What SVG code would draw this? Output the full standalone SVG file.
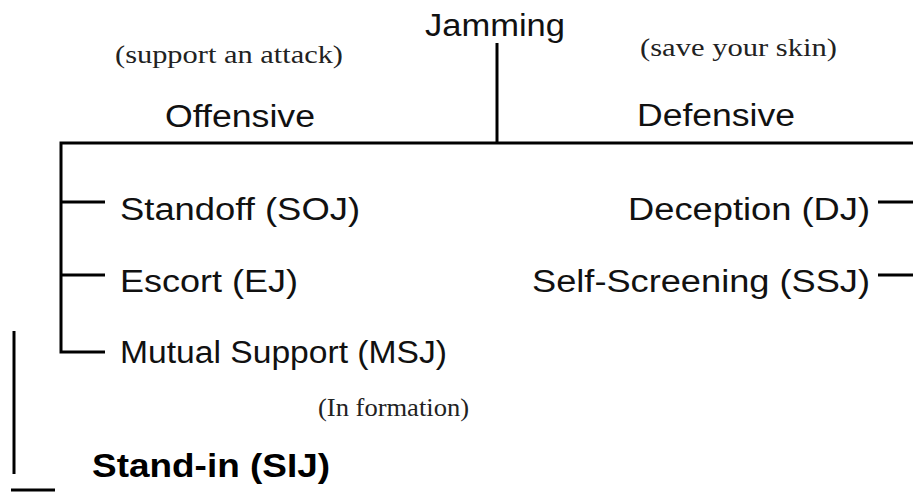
<svg xmlns="http://www.w3.org/2000/svg" width="913" height="493" viewBox="0 0 913 493">
<style>
.s{font-family:"Liberation Sans",Arial,sans-serif;font-size:31px;fill:#111}
.r{font-family:"Liberation Serif","Times New Roman",serif;font-size:26px;fill:#222}
.b{font-family:"Liberation Sans",Arial,sans-serif;font-size:34px;font-weight:bold;fill:#000}
.ln{stroke:#000;stroke-width:3;fill:none}
</style>
<rect width="913" height="493" fill="#fff"/>
<g id="connectors">
<line class="ln" x1="497" y1="43" x2="497" y2="143"/>
<polyline class="ln" points="913,143 61,143 61,352 105,352"/>
<line class="ln" x1="61" y1="202" x2="105" y2="202"/>
<line class="ln" x1="61" y1="275" x2="105" y2="275"/>
<line class="ln" x1="878" y1="202" x2="913" y2="202"/>
<line class="ln" x1="878" y1="275" x2="913" y2="275"/>
<line class="ln" x1="14" y1="331" x2="14" y2="474"/>
<line class="ln" x1="11" y1="490" x2="55" y2="490"/>
</g>
<g id="jamming"><text class="s" x="425" y="36" textLength="140" lengthAdjust="spacingAndGlyphs">Jamming</text></g>
<g id="offensive">
<text class="r" x="115" y="63" textLength="228" lengthAdjust="spacingAndGlyphs">(support an attack)</text>
<text class="s" x="165" y="127" textLength="150" lengthAdjust="spacingAndGlyphs">Offensive</text>
</g>
<g id="defensive">
<text class="r" x="640" y="56" textLength="197" lengthAdjust="spacingAndGlyphs">(save your skin)</text>
<text class="s" x="637" y="126" textLength="158" lengthAdjust="spacingAndGlyphs">Defensive</text>
</g>
<g id="soj"><text class="s" x="120" y="220" textLength="240" lengthAdjust="spacingAndGlyphs">Standoff (SOJ)</text></g>
<g id="ej"><text class="s" x="120" y="292" textLength="178" lengthAdjust="spacingAndGlyphs">Escort (EJ)</text></g>
<g id="msj">
<text class="s" x="120" y="363" textLength="327" lengthAdjust="spacingAndGlyphs">Mutual Support (MSJ)</text>
<text class="r" x="318" y="416" textLength="151" lengthAdjust="spacingAndGlyphs">(In formation)</text>
</g>
<g id="dj"><text class="s" x="628" y="220" textLength="242" lengthAdjust="spacingAndGlyphs">Deception (DJ)</text></g>
<g id="ssj"><text class="s" x="532" y="292" textLength="338" lengthAdjust="spacingAndGlyphs">Self-Screening (SSJ)</text></g>
<g id="sij"><text class="b" x="92" y="477" textLength="238" lengthAdjust="spacingAndGlyphs">Stand-in (SIJ)</text></g>
</svg>
